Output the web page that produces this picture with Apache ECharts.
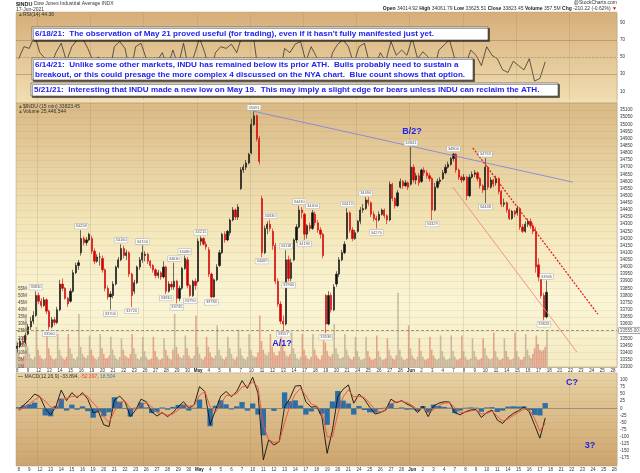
<!DOCTYPE html>
<html>
<head>
  <meta charset="utf-8">
  <title>$INDU 15 min</title>
  <script src="https://cdn.jsdelivr.net/npm/echarts@6/dist/echarts.min.js"></script>
  <style>
    html, body { margin: 0; padding: 0; background: #fff; }
    #main { width: 640px; height: 473px; }
  </style>
</head>
<body>
  <div id="main"></div>
  <script type="text/javascript">
    // trading days, Apr 8 .. Jun 28 (last 7 are empty future space)
    var dayLabels = ['8','9','12','13','14','15','16','19','20','21','22','23','26','27','28','29','30',
      'May','4','5','6','7','10','11','12','13','14','17','18','19','20','21','24','25','26','27','28',
      'Jun','2','3','4','7','8','9','10','11','14','15','16','17','18','21','22','23','24','25','28'];

    // price, 4 bars per day: [open, close, low, high]
    var candles = [
      [33430,33445,33400,33470],[33445,33480,33430,33500],[33480,33470,33450,33510],[33470,33520,33460,33535],
      [33530,33580,33520,33600],[33580,33620,33560,33650],[33620,33660,33600,33690],[33660,33800,33650,33830],
      [33800,33760,33740,33820],[33760,33730,33710,33780],[33730,33770,33720,33790],[33770,33690,33670,33780],
      [33690,33580,33560,33700],[33580,33630,33570,33650],[33630,33610,33590,33650],[33610,33700,33600,33720],
      [33700,33880,33690,33910],[33880,33850,33830,33920],[33850,33780,33770,33860],[33780,33740,33720,33790],
      [33760,33830,33750,33850],[33830,33960,33820,33980],[33960,34010,33950,34030],[34010,34030,33980,34050],
      [34100,34200,34080,34258],[34200,34170,34150,34215],[34170,34190,34150,34210],[34190,34230,34180,34240],
      [34200,34110,34090,34220],[34110,34040,34020,34130],[34040,34070,34030,34090],[34070,34070,34010,34100],
      [34060,33980,33960,34080],[33980,33850,33830,33990],[33850,33790,33770,33870],[33790,33810,33700,33830],
      [33800,33880,33780,33900],[33880,34000,33870,34010],[34000,34050,33990,34070],[34050,34130,34040,34160],
      [34130,34080,34060,34150],[34080,34100,34050,34120],[34100,33950,33930,34110],[33950,33800,33720,33960],
      [33830,33890,33810,33910],[33890,34000,33880,34010],[34000,34050,33980,34070],[34050,34100,34030,34150],
      [34080,34090,34040,34110],[34090,34040,34020,34100],[34040,34010,33990,34050],[34010,33980,33960,34020],
      [33980,33940,33920,33990],[33940,33960,33920,33980],[33960,33930,33910,33970],[33930,34000,33920,34040],
      [34000,33830,33810,34010],[33830,33880,33820,33900],[33880,33860,33840,33900],[33860,33900,33840,34030],
      [33900,33780,33745,33910],[33780,33850,33760,33870],[33850,33990,33840,34000],[33990,34060,33980,34080],
      [34050,33870,33850,34070],[33870,33800,33790,33880],[33800,33900,33790,33910],[33900,33870,33840,33920],
      [33900,34180,33890,34200],[34180,34200,34150,34215],[34200,34160,34150,34210],[34160,34140,34120,34180],
      [34120,33950,33930,34140],[33950,33790,33780,33960],[33790,33910,33785,33920],[33910,34000,33900,34020],
      [34010,34100,34000,34120],[34100,34230,34090,34240],[34230,34190,34170,34250],[34190,34250,34180,34260],
      [34240,34330,34220,34340],[34330,34400,34320,34420],[34400,34350,34330,34410],[34350,34420,34330,34440],
      [34550,34680,34540,34700],[34680,34700,34660,34720],[34700,34730,34680,34750],[34730,34790,34720,34800],
      [34800,35000,34790,35040],[35000,35060,34990,35091],[35060,34900,34880,35070],[34900,34740,34720,34920],
      [34480,34100,34069,34500],[34100,34270,34090,34290],[34270,34300,34230,34320],[34300,34270,34250,34330],
      [34250,34150,34120,34270],[34150,33900,33880,34170],[33900,33740,33720,33920],[33740,33620,33600,33760],
      [33620,33600,33557,33660],[33600,34050,33590,34118],[34050,33920,33900,34080],[33920,34030,33900,34060],
      [34050,34190,34040,34200],[34190,34280,34170,34300],[34280,34400,34270,34430],[34400,34380,34340,34420],
      [34370,34230,34190,34380],[34230,34290,34200,34300],[34290,34270,34250,34310],[34270,34380,34260,34400],
      [34370,34310,34290,34390],[34310,34260,34240,34330],[34260,34230,34200,34280],[34230,34080,34060,34240],
      [33800,33600,33536,33810],[33600,33800,33590,33830],[33800,33700,33680,33820],[33700,33860,33690,33880],
      [33880,33950,33860,33970],[33950,34050,33930,34070],[34050,34100,34040,34120],[34100,34160,34090,34180],
      [34200,34380,34190,34413],[34380,34260,34240,34390],[34260,34200,34180,34280],[34200,34240,34190,34260],
      [34250,34320,34240,34330],[34320,34400,34300,34420],[34400,34410,34380,34440],[34410,34470,34400,34490],
      [34470,34450,34430,34490],[34450,34370,34350,34460],[34370,34340,34320,34390],[34340,34330,34270,34360],
      [34330,34370,34320,34390],[34370,34400,34360,34410],[34400,34360,34340,34410],[34360,34330,34300,34370],
      [34330,34580,34320,34600],[34580,34480,34460,34590],[34480,34430,34410,34490],[34430,34520,34420,34540],
      [34560,34600,34550,34620],[34600,34570,34550,34610],[34570,34590,34560,34610],[34590,34560,34540,34600],
      [34580,34700,34570,34841],[34700,34610,34590,34720],[34610,34640,34580,34660],[34640,34590,34570,34660],
      [34600,34680,34590,34690],[34680,34660,34640,34700],[34660,34640,34620,34680],[34640,34620,34600,34660],
      [34620,34400,34329,34630],[34400,34560,34390,34590],[34560,34600,34550,34620],[34600,34610,34580,34630],
      [34620,34660,34610,34680],[34660,34700,34650,34720],[34700,34720,34690,34740],[34720,34760,34710,34770],
      [34760,34790,34740,34800],[34790,34680,34660,34800],[34680,34630,34610,34690],[34630,34610,34590,34640],
      [34610,34630,34600,34650],[34630,34500,34469,34640],[34500,34630,34490,34650],[34630,34650,34620,34670],
      [34650,34660,34630,34680],[34660,34620,34600,34670],[34620,34570,34550,34630],[34570,34540,34520,34580],
      [34540,34700,34448,34763],[34700,34560,34540,34710],[34560,34610,34550,34630],[34610,34580,34560,34620],
      [34590,34620,34570,34640],[34620,34530,34510,34630],[34530,34440,34420,34540],[34440,34450,34420,34480],
      [34450,34400,34380,34460],[34400,34340,34329,34410],[34340,34390,34330,34400],[34390,34370,34350,34400],
      [34380,34410,34360,34430],[34410,34280,34260,34420],[34280,34250,34237,34300],[34250,34300,34240,34320],
      [34300,34320,34280,34340],[34320,34290,34270,34340],[34290,34250,34230,34310],[34250,34000,33960,34280],
      [34015,33930,33900,34062],[33930,33800,33780,33950],[33800,33650,33626,33820],[33650,33823,33640,33905]
    ];

    // volume in millions, 6 bars per day (open ... close)
    var volume = [
      18,10,7,6,8,35, 14,9,6,5,7,28, 12,8,6,5,6,23, 13,8,6,5,6,23, 12,8,6,5,7,23,
      13,9,6,5,7,37, 14,9,7,6,8,22, 12,8,6,5,7,23, 13,9,6,6,8,21, 12,8,6,5,7,20,
      12,8,7,6,9,23, 13,9,6,5,7,21, 11,7,5,5,6,21, 11,7,5,5,6,20, 12,8,6,5,12,37,
      14,9,7,6,8,22, 13,8,6,6,8,36, 14,9,6,5,7,21, 14,10,7,6,8,29, 12,8,6,5,7,21,
      13,9,6,5,7,26, 13,8,6,5,7,23, 12,8,7,7,10,36, 18,12,9,8,10,23, 14,10,8,8,11,23,
      16,11,8,7,9,24, 13,9,6,5,7,23, 12,8,6,5,7,23, 12,8,6,5,8,22, 17,11,8,7,9,30,
      13,9,6,6,7,23, 12,8,6,5,7,21, 11,7,5,5,6,21, 11,7,5,5,6,22, 11,7,5,5,6,20,
      12,8,6,5,8,52, 12,7,5,5,6,29, 13,8,6,5,7,20, 11,7,5,5,6,21, 12,8,6,5,6,22,
      11,7,5,5,6,22, 11,7,5,5,6,22, 11,7,5,5,6,20, 11,7,5,5,6,20, 13,8,6,5,6,24,
      11,7,5,5,6,20, 11,7,5,5,6,24, 11,7,5,5,7,23, 12,8,6,9,13,22, 16,12,11,12,14,25
    ];

    // RSI(14), 2 points per day
    var rsi = [48,62, 60,75, 55,48, 38,55, 66,45, 62,70, 72,60, 45,50, 35,30, 62,68,
      60,30, 62,66, 48,40, 45,55, 38,58, 40,66, 35,52, 72,55, 30,55, 62,60,
      65,55, 75,70, 80,35, 25,50, 30,25, 60,55, 65,68, 45,62, 50,35, 25,55,
      65,70, 62,42, 62,66, 42,38, 55,45, 68,52, 58,52, 72,48, 56,50, 32,58,
      64,70, 48,38, 40,58, 52,40, 62,52, 48,35, 32,45, 40,35, 48,22, 25,44.36];

    // MACD(12,26,9), 2 points per day
    var macdLine = [-4,12,29,50,41,0,-23,6,64,27, 55,37,55,32,-15,-12,-58,-64,29,43,
      23,-29,-6,32,23,-12,-27,-15,-29,-15, 6,23,0,12,76,59,-58,-6,43,59,
      41,59,97,70,109,53,-181,-111,-129,-117, 6,35,78,80,23,4,6,-29,-158,-76,
      41,67,82,18,50,32,4,-20,-15,-6, 32,20,27,15,6,-15,8,-29,8,18,
      23,22,-15,-23,-12,-6,-4,-32,-15,-6, -41,-53,-32,-18,-8,4,-12,-58,-105,-33.894];
    var signalLine = [-8,2,15,30,40,25,5,-2,30,35, 42,42,48,42,18,0,-30,-50,-10,20,
      25,0,-8,12,20,5,-15,-18,-24,-20, -6,10,8,10,45,60,5,-15,15,45,
      45,52,75,78,92,75,-60,-110,-120,-118, -50,10,50,70,45,15,8,-10,-100,-100,
      -20,40,65,40,42,38,18,-5,-12,-8, 15,22,24,20,10,-5,0,-15,-5,10,
      18,20,2,-15,-14,-9,-6,-20,-18,-10, -28,-45,-38,-25,-14,-3,-6,-35,-80,-52.397];
    var histBars = [4,10,14,20,1,-25,-28,8,34,-8, 13,-5,7,-10,-33,-12,-28,-14,39,23,
      -2,-29,2,20,3,-17,-12,3,-5,5, 12,13,-8,2,31,-1,-63,9,28,14,
      -4,7,22,-8,17,-22,-95,-1,-9,1, 56,25,28,10,-22,-11,-2,-19,-58,24,
      61,27,17,-22,8,-6,-14,-15,-3,2, 17,-2,3,-5,-4,-10,8,-14,13,8,
      5,2,-17,-8,2,3,2,-12,3,4, -13,-8,6,7,6,7,-6,-23,-25,18.504];

    // swing labels: [bar index, price, 1 above / -1 below]
    var swingLabels = [[7,33830,1],[12,33560,-1],[24,34258,1],[35,33700,-1],[39,34160,1],[43,33720,-1],
      [47,34150,1],[56,33810,-1],[59,34030,1],[60,33745,-1],[63,34080,1],[65,33790,-1],[69,34215,1],
      [73,33780,-1],[89,35091,1],[92,34069,-1],[95,34330,1],[100,33557,-1],[101,34118,1],[102,33900,-1],
      [106,34430,1],[108,34190,-1],[111,34400,1],[116,33536,-1],[124,34413,1],[131,34490,1],[135,34270,-1],
      [148,34841,1],[156,34329,-1],[164,34800,1],[176,34763,1],[176,34448,-1],[198,33626,-1],[199,33905,1]];

    // trend lines in [trading day, price]
    var blueLine = [[22.27, 35093], [52.35, 34595]];
    var redLine = [[42.95, 34834], [54.7, 33669]];
    var lowerLine = [[41.07, 34560], [52.73, 33403]];
    var supportLevel = 33555;

    var FONT = '"Liberation Sans", Arial, sans-serif';
    var DAYS = 56.5;

    function slots(per) {
      var out = [];
      for (var i = 0; i < Math.round(DAYS * per); i++) out.push(String(i));
      return out;
    }
    function dayLabel(per) {
      return function (v, i) {
        if (i % per !== 0) return '';
        var d = dayLabels[i / per] || '';
        return (d === 'May' || d === 'Jun') ? '{b|' + d + '}' : d;
      };
    }
    function weekLines(per) {
      return function (i) { return i % (per * 5) === per * 2; };
    }
    var dateLabel = {
      interval: 0, fontSize: 4.5, color: '#333', margin: 1.5, fontFamily: FONT,
      rich: { b: { fontSize: 4.5, fontWeight: 'bold', color: '#222', fontFamily: FONT } }
    };
    var vgrid = { lineStyle: { color: 'rgba(140,110,60,0.28)', width: 0.6 } };
    var hgrid = { lineStyle: { color: 'rgba(150,115,60,0.16)', width: 0.6 } };
    var valueLabel = { fontSize: 4.5, color: '#333', margin: 3, fontFamily: FONT };

    function boxLabel(color, text) {
      return {
        show: true, position: 'end', distance: 2, fontSize: 4.5, color: color, fontFamily: FONT,
        backgroundColor: '#fff', borderColor: color, borderWidth: 0.5, padding: [0.5, 1],
        formatter: text
      };
    }

    function bg(y, h, stops) {
      return {
        type: 'rect', z: -10, silent: true,
        shape: { x: 16, y: y, width: 601, height: h },
        style: {
          stroke: '#b9a27c', lineWidth: 0.5,
          fill: new echarts.graphic.LinearGradient(0, 0, 0, 1, stops)
        }
      };
    }
    function note(x, y, w, h, lines) {
      var els = [{
        type: 'rect', z: 100, shape: { x: x, y: y, width: w, height: h },
        style: { fill: '#fff', stroke: '#444', lineWidth: 0.6,
          shadowColor: 'rgba(0,0,0,0.6)', shadowOffsetX: 1.5, shadowOffsetY: 1.5, shadowBlur: 0 }
      }];
      lines.forEach(function (t, i) {
        els.push({
          type: 'text', z: 101, x: x + 3, y: y + 6.8 + i * 10,
          style: { text: t, fill: '#2222ee', font: 'bold 8.1px ' + FONT, verticalAlign: 'middle', textVerticalAlign: 'middle' }
        });
      });
      return els;
    }
    function tag(x, y, t) {
      return { type: 'text', z: 50, x: x, y: y,
        style: { text: t, fill: '#2222ee', font: 'bold 9px ' + FONT, align: 'center', textAlign: 'center',
          verticalAlign: 'middle', textVerticalAlign: 'middle' } };
    }
    function small(x, y, t, rich, align) {
      return { type: 'text', z: 50, x: x, y: y,
        style: { text: t, fill: '#333', font: '5px ' + FONT, rich: rich || {}, align: align || 'left', textAlign: align || 'left',
          verticalAlign: 'middle', textVerticalAlign: 'middle' } };
    }

    var graphics = [
      bg(12, 91, [{ offset: 0, color: '#d6ae79' }, { offset: 1, color: '#f1dfb2' }]),
      bg(103, 264, [{ offset: 0, color: '#d9b985' }, { offset: 0.45, color: '#f3e5b7' }, { offset: 0.75, color: '#faf5d6' }, { offset: 1, color: '#f5ebc3' }]),
      bg(373, 93, [{ offset: 0, color: '#e7d1a3' }, { offset: 1, color: '#cda46d' }]),
      small(16, 4, '{b|$INDU} Dow Jones Industrial Average INDX', { b: { fontWeight: 'bold', fontSize: 5.5, fontFamily: FONT, fill: '#222' } }),
      small(16, 10, '17-Jun-2021'),
      small(617, 3, '@StockCharts.com', null, 'right'),
      small(617, 9, '{b|Open} 34014.92 {b|High} 34061.79 {b|Low} 33625.51 {b|Close} 33823.45 {b|Volume} 357.5M {b|Chg} -210.22 (-0.62%) {r|▼}',
        { b: { fontWeight: 'bold', fontSize: 5, fontFamily: FONT, fill: '#222' }, r: { fill: '#d00', fontSize: 5 } }, 'right'),
      small(18, 15, '{g|▲}RSI(14) 44.36', { g: { fill: '#556b2f', fontSize: 5 } }),
      small(18, 107, '{g|▲}$INDU (15 min) 33823.45', { g: { fill: '#556b2f', fontSize: 5 } }),
      small(18, 112, '{g|▲}Volume 25,446,544', { g: { fill: '#556b2f', fontSize: 5 } }),
      small(18, 377, '{k|—} MACD(12,26,9) -33.894, {r|-52.397}, {bl|18.504}',
        { k: { fill: '#000', fontSize: 5 }, r: { fill: '#e8403a', fontSize: 5 }, bl: { fill: '#3a7fb8', fontSize: 5 } }),
      tag(412, 132, 'B/2?'), tag(282, 344, 'A/1?'), tag(572, 383, 'C?'), tag(590, 446, '3?')
    ].concat(
      note(32, 27, 456, 13, ['6/18/21:  The observation of May 21 proved useful (for trading), even if it hasn\'t fully manifested just yet.']),
      note(32, 58, 441, 22, ['6/14/21:  Unlike some other markets, INDU has remained below its prior ATH.  Bulls probably need to sustain a',
        'breakout, or this could presage the more complex 4 discussed on the NYA chart.  Blue count shows that option.']),
      note(31, 83, 527, 13, ['5/21/21:  Interesting that INDU made a new low on May 19.  This may imply a slight edge for bears unless INDU can reclaim the ATH.'])
    );

    var myChart = echarts.init(document.getElementById('main'));

    var option = {
      animation: false,
      backgroundColor: '#fff',
      textStyle: { fontFamily: FONT },
      graphic: graphics,
      grid: [
        { left: 16, right: 23, top: 14, height: 86 },
        { left: 16, right: 23, top: 103, height: 263.8 },
        { left: 16, right: 23, top: 372.7, height: 92.6 }
      ],
      xAxis: [
        { type: 'category', gridIndex: 0, data: slots(2), boundaryGap: true,
          axisLine: { show: false }, axisTick: { show: false }, axisLabel: { show: false },
          splitLine: Object.assign({ show: true, interval: weekLines(2) }, vgrid) },
        { type: 'category', gridIndex: 1, data: slots(4), boundaryGap: true,
          axisLine: { lineStyle: { color: '#9a8a70', width: 0.5 } }, axisTick: { show: false },
          axisLabel: Object.assign({ formatter: dayLabel(4) }, dateLabel),
          splitLine: Object.assign({ show: true, interval: weekLines(4) }, vgrid) },
        { type: 'category', gridIndex: 1, data: slots(6), boundaryGap: true, show: false },
        { type: 'value', gridIndex: 1, min: 0, max: DAYS, show: false },
        { type: 'category', gridIndex: 2, data: slots(2), boundaryGap: true,
          axisLine: { lineStyle: { color: '#9a8a70', width: 0.5 } }, axisTick: { show: false },
          axisLabel: Object.assign({ formatter: dayLabel(2) }, dateLabel),
          splitLine: Object.assign({ show: true, interval: weekLines(2) }, vgrid) }
      ],
      yAxis: [
        { type: 'value', gridIndex: 0, position: 'right', min: 0, max: 100, interval: 10,
          axisLine: { show: false }, axisTick: { show: false }, splitLine: { show: false },
          axisLabel: Object.assign({ formatter: function (v) { return v % 20 === 10 ? v : ''; } }, valueLabel) },
        { type: 'value', gridIndex: 1, position: 'right', min: 33300, max: 35150, interval: 50,
          axisLine: { show: false }, axisTick: { show: false },
          splitLine: Object.assign({ show: true }, hgrid),
          axisLabel: Object.assign({ formatter: function (v) { return v > 35100 ? '' : v; } }, valueLabel) },
        { type: 'value', gridIndex: 1, position: 'left', min: 0, max: 185, interval: 5,
          axisLine: { show: false }, axisTick: { show: false }, splitLine: { show: false },
          axisLabel: { inside: true, fontSize: 4.5, color: '#444', margin: 2, fontFamily: FONT,
            formatter: function (v) { return v <= 55 ? v + 'M' : ''; } } },
        { type: 'value', gridIndex: 2, position: 'right', min: -200, max: 125, interval: 25,
          axisLine: { show: false }, axisTick: { show: false },
          splitLine: Object.assign({ show: true }, hgrid),
          axisLabel: Object.assign({ formatter: function (v) { return v > 100 || v < -175 ? '' : v; } }, valueLabel) }
      ],
      series: [
        {
          name: 'RSI', type: 'line', xAxisIndex: 0, yAxisIndex: 0, data: rsi,
          symbol: 'none', lineStyle: { color: '#222', width: 0.7 },
          markLine: {
            silent: true, symbol: ['none', 'none'],
            data: [
              { yAxis: 70, lineStyle: { color: '#9c8867', width: 0.6, type: 'solid' }, label: { show: false } },
              { yAxis: 50, lineStyle: { color: '#9c8867', width: 0.6, type: 'dashed' }, label: { show: false } },
              { yAxis: 30, lineStyle: { color: '#9c8867', width: 0.6, type: 'solid' }, label: { show: false } },
              { yAxis: 44.36, lineStyle: { opacity: 0 }, label: boxLabel('#333', '44.36') }
            ]
          }
        },
        {
          name: 'Volume', type: 'bar', xAxisIndex: 2, yAxisIndex: 2, data: volume, z: 1,
          barCategoryGap: '10%',
          itemStyle: {
            color: function (p) {
              var c = candles[Math.floor(p.dataIndex / 6) * 4 + Math.floor((p.dataIndex % 6) * 4 / 6)];
              return c && c[1] < c[0] ? 'rgba(214,118,104,0.62)' : 'rgba(170,150,130,0.6)';
            }
          }
        },
        {
          name: '$INDU', type: 'candlestick', xAxisIndex: 1, yAxisIndex: 1, data: candles, z: 3,
          barWidth: '65%',
          itemStyle: { color: '#111', color0: '#d40000', borderColor: '#111', borderColor0: '#d40000', borderWidth: 0.6 },
          markPoint: {
            symbol: 'rect', symbolSize: 0, silent: true,
            data: swingLabels.map(function (s) {
              return {
                coord: [s[0], s[1]], value: s[1],
                label: {
                  show: true, position: s[2] > 0 ? 'top' : 'bottom', distance: 1.5,
                  fontSize: 4, color: '#555', fontFamily: FONT,
                  backgroundColor: '#fff', borderColor: '#aaa', borderWidth: 0.5, padding: [0.5, 1]
                }
              };
            })
          },
          markLine: {
            silent: true, symbol: ['none', 'none'],
            data: [
              { yAxis: supportLevel, lineStyle: { color: '#8c7b66', width: 0.8, type: [3, 2] },
                label: boxLabel('#555', supportLevel + '.00') },
              { yAxis: 33823.45, lineStyle: { opacity: 0 }, label: boxLabel('#333', '33823.45') }
            ]
          }
        },
        { name: 'blue', type: 'line', xAxisIndex: 3, yAxisIndex: 1, data: blueLine, symbol: 'none', z: 4,
          lineStyle: { color: '#7b7be8', width: 0.8 } },
        { name: 'red', type: 'line', xAxisIndex: 3, yAxisIndex: 1, data: redLine, symbol: 'none', z: 4,
          lineStyle: { color: '#ee1010', width: 1.2, type: [2, 1.5] } },
        { name: 'lower', type: 'line', xAxisIndex: 3, yAxisIndex: 1, data: lowerLine, symbol: 'none', z: 4,
          lineStyle: { color: '#f28a78', width: 0.9 } },
        {
          name: 'Hist', type: 'bar', xAxisIndex: 4, yAxisIndex: 3, data: histBars,
          barCategoryGap: '0%', itemStyle: { color: '#2b6fa6' },
          markLine: {
            silent: true, symbol: ['none', 'none'],
            data: [
              { yAxis: 0, lineStyle: { color: '#8c7b66', width: 0.5, type: 'solid' }, label: { show: false } },
              { yAxis: 18.504, lineStyle: { opacity: 0 }, label: boxLabel('#2b6fa6', '18.504') },
              { yAxis: -33.894, lineStyle: { opacity: 0 }, label: boxLabel('#333', '-33.894') },
              { yAxis: -52.397, lineStyle: { opacity: 0 }, label: boxLabel('#e8403a', '-52.397') }
            ]
          }
        },
        { name: 'MACD', type: 'line', xAxisIndex: 4, yAxisIndex: 3, data: macdLine, symbol: 'none',
          lineStyle: { color: '#111', width: 0.9 } },
        { name: 'Signal', type: 'line', xAxisIndex: 4, yAxisIndex: 3, data: signalLine, symbol: 'none',
          lineStyle: { color: '#f04a3a', width: 0.9 } }
      ]
    };
    myChart.setOption(option);
  </script>
</body>
</html>
